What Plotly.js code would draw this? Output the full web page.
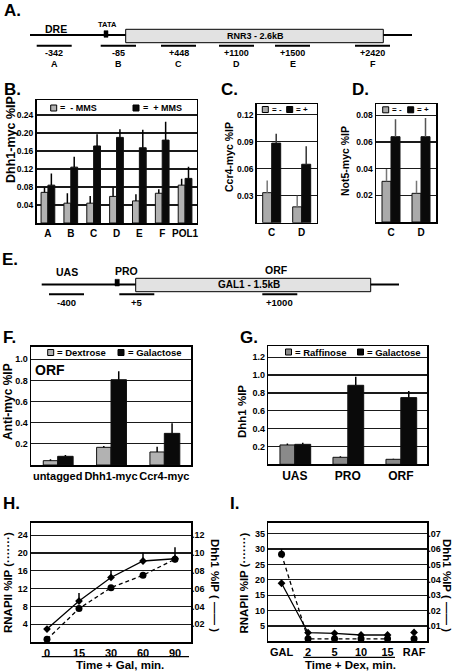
<!DOCTYPE html>
<html><head><meta charset="utf-8">
<script src="https://cdn.plot.ly/plotly-3.0.1.min.js"></script>
<style>body{margin:0;background:#fff}#chart{width:458px;height:671px}</style>
</head><body><div id="chart"></div><script>
// ---------- DATA ----------
const bCategories = ['A','B','C','D','E','F','POL1'];
const bMinusMMS = [0.068,0.044,0.044,0.059,0.049,0.066,0.084];
const bMinusMMSErr = [0.011,0.022,0.016,0.020,0.015,0.009,0.014];
const bPlusMMS = [0.084,0.124,0.171,0.190,0.167,0.184,0.099];
const bPlusMMSErr = [0.026,0.023,0.026,0.018,0.040,0.041,0.026];

const cdCategories = ['C','D'];
const cMinus = [0.0334,0.0176];
const cMinusErr = [0.0136,0.0124];
const cPlus = [0.0885,0.065];
const cPlusErr = [0.0105,0.020];
const dMinus = [0.0305,0.0215];
const dMinusErr = [0.0093,0.0095];
const dPlus = [0.064,0.064];
const dPlusErr = [0.013,0.014];

const fCategories = ['untagged','Dhh1-myc','Ccr4-myc'];
const fDextrose = [0.041,0.167,0.123];
const fDextroseErr = [0.013,0.013,0.05];
const fGalactose = [0.082,0.806,0.299];
const fGalactoseErr = [0.012,0.079,0.095];

const gCategories = ['UAS','PRO','ORF'];
const gRaffinose = [0.217,0.0785,0.056];
const gRaffinoseErr = [0.015,0.0115,0.0076];
const gGalactose = [0.224,0.886,0.748];
const gGalactoseErr = [0.019,0.097,0.074];

const hTimes = ['0','15','30','60','90'];
const hRNAPII = [0.6,7.5,12.2,15.0,18.6];
const hDhh1 = [0.0145,0.046,0.0725,0.091,0.0935];
const hDhh1Err = [0,0.009,0.0085,0.0095,0.013];

const iTimes = ['GAL','2','5','10','15','RAF'];
const iRNAPII = [28.3,0.8,0.8,0.8,0.8,0.8];
const iRNAPIIErr = [1.7,0,0,0,0,0];
const iDhh1 = [0.0378,0.0056,0.0052,0.0041,0.0041,0.0058];

// schematic labels
const aAmpliconPos = ['-342','-85','+448','+1100','+1500','+2420'];
const aAmpliconName = ['A','B','C','D','E','F'];
const eAmpliconPos = ['-400','+5','+1000'];

// ---------- LAYOUT HELPERS ----------
const W = 458, H = 671;
const X = v => v / W;
const Y = v => 1 - v / H;
const FONT = 'Liberation Sans, Arial, Helvetica, sans-serif';

function yAx(dom, range, vals, txt, size, extra) {
  return Object.assign({
    domain: [Y(dom[1]), Y(dom[0])], range: range, tickvals: vals, ticktext: txt,
    showline: true, mirror: true, linecolor: '#000', linewidth: 1.5,
    showgrid: true, gridcolor: '#1a1a1a', gridwidth: 1.3, zeroline: false, ticks: '',
    tickfont: {family: FONT, size: size, weight: 'bold', color: '#000'}, fixedrange: true
  }, extra || {});
}
function xAx(dom, anchor, size, nCat, extra) {
  return Object.assign({
    domain: [X(dom[0]), X(dom[1])], anchor: anchor, type: 'category',
    range: [-0.5, nCat - 0.5], tickangle: 0,
    showline: true, mirror: true, linecolor: '#000', linewidth: 1.5,
    showgrid: false, zeroline: false, ticks: '',
    tickfont: {family: FONT, size: size, weight: 'bold', color: '#000'}, fixedrange: true
  }, extra || {});
}
function err(arr, color) {
  return {type: 'data', array: arr, arrayminus: arr.map(() => 0), symmetric: false,
          width: 0, thickness: 1.5, color: color};
}
function bar(x, y, e, xa, ya, color, w, off, ecolor) {
  return {type: 'bar', x: x, y: y, xaxis: xa, yaxis: ya, width: w, offset: off,
          marker: {color: color, line: {color: '#111', width: 1}},
          error_y: err(e, ecolor), hoverinfo: 'skip'};
}

const LG = '#b2b2b2', DK = '#0a0a0a', MG = '#8a8a8a';

const traces = [
  bar(bCategories, bMinusMMS, bMinusMMSErr, 'x', 'y', LG, 0.3, -0.3, '#000'),
  bar(bCategories, bPlusMMS, bPlusMMSErr, 'x', 'y', DK, 0.3, 0, '#000'),
  bar(cdCategories, cMinus, cMinusErr, 'x2', 'y2', '#aaaaaa', 0.3, -0.3, '#777'),
  bar(cdCategories, cPlus, cPlusErr, 'x2', 'y2', DK, 0.3, 0, '#333'),
  bar(cdCategories, dMinus, dMinusErr, 'x3', 'y3', '#aaaaaa', 0.3, -0.3, '#777'),
  bar(cdCategories, dPlus, dPlusErr, 'x3', 'y3', DK, 0.3, 0, '#555'),
  bar(fCategories, fDextrose, fDextroseErr, 'x4', 'y4', LG, 0.27, -0.27, '#000'),
  bar(fCategories, fGalactose, fGalactoseErr, 'x4', 'y4', DK, 0.29, 0, '#000'),
  bar(gCategories, gRaffinose, gRaffinoseErr, 'x5', 'y5', MG, 0.28, -0.28, '#000'),
  bar(gCategories, gGalactose, gGalactoseErr, 'x5', 'y5', DK, 0.3, 0, '#000'),
  // H
  {type: 'scatter', mode: 'lines+markers', x: hTimes, y: hRNAPII, xaxis: 'x6', yaxis: 'y6',
   line: {color: '#000', width: 1.3, dash: '4px,3px'}, marker: {symbol: 'circle', size: 7, color: '#000'},
   cliponaxis: false, hoverinfo: 'skip'},
  {type: 'scatter', mode: 'lines+markers', x: hTimes, y: hDhh1, xaxis: 'x6', yaxis: 'y7',
   line: {color: '#000', width: 1.3}, marker: {symbol: 'diamond', size: 6, color: '#000'},
   error_y: err(hDhh1Err, '#000'), cliponaxis: false, hoverinfo: 'skip'},
  // I
  {type: 'scatter', mode: 'lines+markers', x: iTimes.slice(0,5), y: iRNAPII.slice(0,5), xaxis: 'x8', yaxis: 'y8',
   line: {color: '#000', width: 1.3, dash: '4px,3px'}, marker: {symbol: 'circle', size: 7, color: '#000'},
   error_y: err(iRNAPIIErr.slice(0,5), '#000'), cliponaxis: false, hoverinfo: 'skip'},
  {type: 'scatter', mode: 'markers', x: iTimes.slice(5), y: iRNAPII.slice(5), xaxis: 'x8', yaxis: 'y8',
   marker: {symbol: 'circle', size: 7, color: '#000'}, cliponaxis: false, hoverinfo: 'skip'},
  {type: 'scatter', mode: 'lines+markers', x: iTimes.slice(0,5), y: iDhh1.slice(0,5), xaxis: 'x8', yaxis: 'y9',
   line: {color: '#000', width: 1.3}, marker: {symbol: 'diamond', size: 6, color: '#000'},
   cliponaxis: false, hoverinfo: 'skip'},
  {type: 'scatter', mode: 'markers', x: iTimes.slice(5), y: iDhh1.slice(5), xaxis: 'x8', yaxis: 'y9',
   marker: {symbol: 'diamond', size: 6, color: '#000'}, cliponaxis: false, hoverinfo: 'skip'}
];

// ---------- ANNOTATIONS & SHAPES ----------
const ann = [];
function txt(t, x, y, size, opts) {
  ann.push(Object.assign({text: '<b>' + t + '</b>', x: X(x), y: Y(y), xref: 'paper', yref: 'paper',
    showarrow: false, xanchor: 'center', yanchor: 'middle', borderpad: 0,
    font: {family: FONT, size: size, color: '#000'}}, opts || {}));
}
const shapes = [];
function line(x0, y0, x1, y1, w, dash) {
  shapes.push({type: 'line', xref: 'paper', yref: 'paper', x0: X(x0), y0: Y(y0), x1: X(x1), y1: Y(y1),
    line: {color: '#000', width: w, dash: dash || 'solid'}});
}
function rect(x0, y0, x1, y1, fill, lw) {
  shapes.push({type: 'rect', xref: 'paper', yref: 'paper', x0: X(x0), y0: Y(y0), x1: X(x1), y1: Y(y1),
    fillcolor: fill, line: {color: '#000', width: lw}});
}

// panel letters
txt('A.', 12, 10, 17); txt('B.', 12, 89, 17); txt('C.', 229, 89, 17); txt('D.', 360, 90, 17);
txt('E.', 10, 259, 17); txt('F.', 9, 337, 17); txt('G.', 249, 337, 17);
txt('H.', 11, 503, 17); txt('I.', 234, 503, 17);

// Panel A schematic
line(30, 35, 412, 35, 2);
rect(125.7, 29.3, 383.3, 42.7, '#e2e2e2', 1);
rect(104, 30.7, 108, 37.3, '#000', 0.5);
txt('DRE', 56, 29, 10.5); txt('TATA', 107, 25, 7.5); txt('RNR3 - 2.6kB', 255, 36, 9);
const aSeg = [[36.7,71.7],[100.7,136],[161,196],[219,254],[275,310],[355,390]];
aSeg.forEach((s, i) => {
  line(s[0], 45.7, s[1], 45.7, 2);
  const cx = (s[0] + s[1]) / 2;
  txt(aAmpliconPos[i], cx, 52.5, 9);
  txt(aAmpliconName[i], cx, 64.5, 9);
});

// Panel E schematic
line(41.7, 284.5, 399, 284.5, 2);
rect(135.7, 278.3, 370.7, 291.7, '#e2e2e2', 1);
rect(115, 279.3, 119.3, 286, '#000', 0.5);
txt('UAS', 67, 272, 10.5); txt('PRO', 127, 271, 10.5); txt('ORF', 276, 270, 10.5);
txt('GAL1 - 1.5kB', 249, 285, 10);
const eSeg = [[49,84],[119.3,154.3],[262.3,297.3]];
eSeg.forEach((s, i) => {
  line(s[0], 294.3, s[1], 294.3, 2);
  txt(eAmpliconPos[i], (s[0] + s[1]) / 2, 302.5, 9.5);
});

// legends inside plot strips
function legItem(x0, y, fill, label, size) {
  rect(x0, y - 3, x0 + 6, y + 3, fill, 1);
  txt(label, x0 + 8.5, y, size, {xanchor: 'left'});
}
legItem(50.7, 108, LG, '=  - MMS', 9); legItem(133, 108, DK, '=  + MMS', 9);
legItem(262.3, 109.5, '#aaaaaa', '= -', 8); legItem(286.7, 109.5, DK, '= +', 8);
legItem(382.7, 109.8, '#aaaaaa', '= -', 8); legItem(407.7, 109.8, DK, '= +', 8);
legItem(47.7, 352.5, LG, '= Dextrose', 9.5); legItem(118, 352.5, DK, '= Galactose', 9.5);
legItem(285.5, 352, MG, '= Raffinose', 9.5); legItem(357.5, 352, DK, '= Galactose', 9.5);

txt('ORF', 50, 370, 14);

// y titles
txt('Dhh1-myc %IP', 11, 140, 12.5, {textangle: -90});
txt('Ccr4-myc %IP', 229, 157, 10.5, {textangle: -90});
txt('Not5-myc %IP', 345, 161, 10.5, {textangle: -90});
txt('Anti-myc %IP', 8, 402, 12, {textangle: -90});
txt('Dhh1 %IP', 242, 412, 11.5, {textangle: -90});
txt('RNAPII %IP (·······)', 8, 583, 11.5, {textangle: -90});
txt('Dhh1 %IP ( —— )', 215, 585, 11.5, {textangle: 90});
txt('RNAPII %IP (·······)', 243.5, 583, 11.5, {textangle: -90});
txt('Dhh1 %IP ( —— )', 447, 585, 11.5, {textangle: 90});

// time axis captions
line(41.7, 656.7, 189, 656.7, 1.3);
txt('Time + Gal, min.', 120, 664.5, 11.5);
line(303.3, 657.3, 395, 657.3, 1.3);
txt('Time + Dex, min.', 350, 664.5, 11.5);

const layout = {
  width: W, height: H, margin: {l: 0, r: 0, t: 0, b: 0}, autosize: false,
  paper_bgcolor: '#fff', plot_bgcolor: '#fff', showlegend: false, barmode: 'group',
  font: {family: FONT, color: '#000'},
  xaxis: xAx([36.5, 196.5], 'y', 10, 7),
  yaxis: yAx([100, 223], [0, 0.273], [0.04,0.08,0.12,0.16,0.20,0.24],
             ['0.04','0.08','0.12','0.16','0.20','0.24'], 8.5, {anchor: 'x'}),
  xaxis2: xAx([256.7, 316.7], 'y2', 10, 2),
  yaxis2: yAx([104, 222.7], [0, 0.132], [0.03,0.06,0.09,0.12], ['0.03','0.06','0.09','0.12'], 8.5, {anchor: 'x2'}),
  xaxis3: xAx([376, 436], 'y3', 10, 2),
  yaxis3: yAx([104.3, 222], [0, 0.0883], [0.02,0.04,0.06,0.08], ['0.02','0.04','0.06','0.08'], 8.5, {anchor: 'x3'}),
  xaxis4: xAx([31, 191], 'y4', 11, 3),
  yaxis4: yAx([346.7, 465], [0, 1.118], [0.2,0.4,0.6,0.8,1.0], ['0.2','0.4','0.6','0.8','1.0'], 9, {anchor: 'x4'}),
  xaxis5: xAx([268.3, 427.3], 'y5', 12, 3),
  yaxis5: yAx([346, 464.3], [0, 1.327], [0.2,0.4,0.6,0.8,1.0,1.2], ['0.2','0.4','0.6','0.8','1.0','1.2'], 9, {anchor: 'x5'}),
  xaxis6: xAx([31, 191], 'y6', 11, 5),
  yaxis6: yAx([522.7, 642], [0, 26.8], [4,8,12,16,20,24], ['4','8','12','16','20','24'], 9, {anchor: 'x6'}),
  yaxis7: yAx([522.7, 642], [0, 0.134], [0.02,0.04,0.06,0.08,0.10,0.12], ['.02','.04','.06','.08','.10','.12'], 9,
              {anchor: 'x6', overlaying: 'y6', side: 'right', showgrid: false, showline: false}),
  xaxis8: xAx([268.3, 427.3], 'y8', 11, 6),
  yaxis8: yAx([522.7, 641.3], [0, 38.6], [5,10,15,20,25,30,35], ['5','10','15','20','25','30','35'], 9, {anchor: 'x8'}),
  yaxis9: yAx([522.7, 641.3], [0, 0.0772], [0.01,0.02,0.03,0.04,0.05,0.06,0.07], ['.01','.02','.03','.04','.05','.06','.07'], 9,
              {anchor: 'x8', overlaying: 'y8', side: 'right', showgrid: false, showline: false}),
  annotations: ann, shapes: shapes
};

Plotly.newPlot('chart', traces, layout, {staticPlot: true, displayModeBar: false});
</script></body></html>
